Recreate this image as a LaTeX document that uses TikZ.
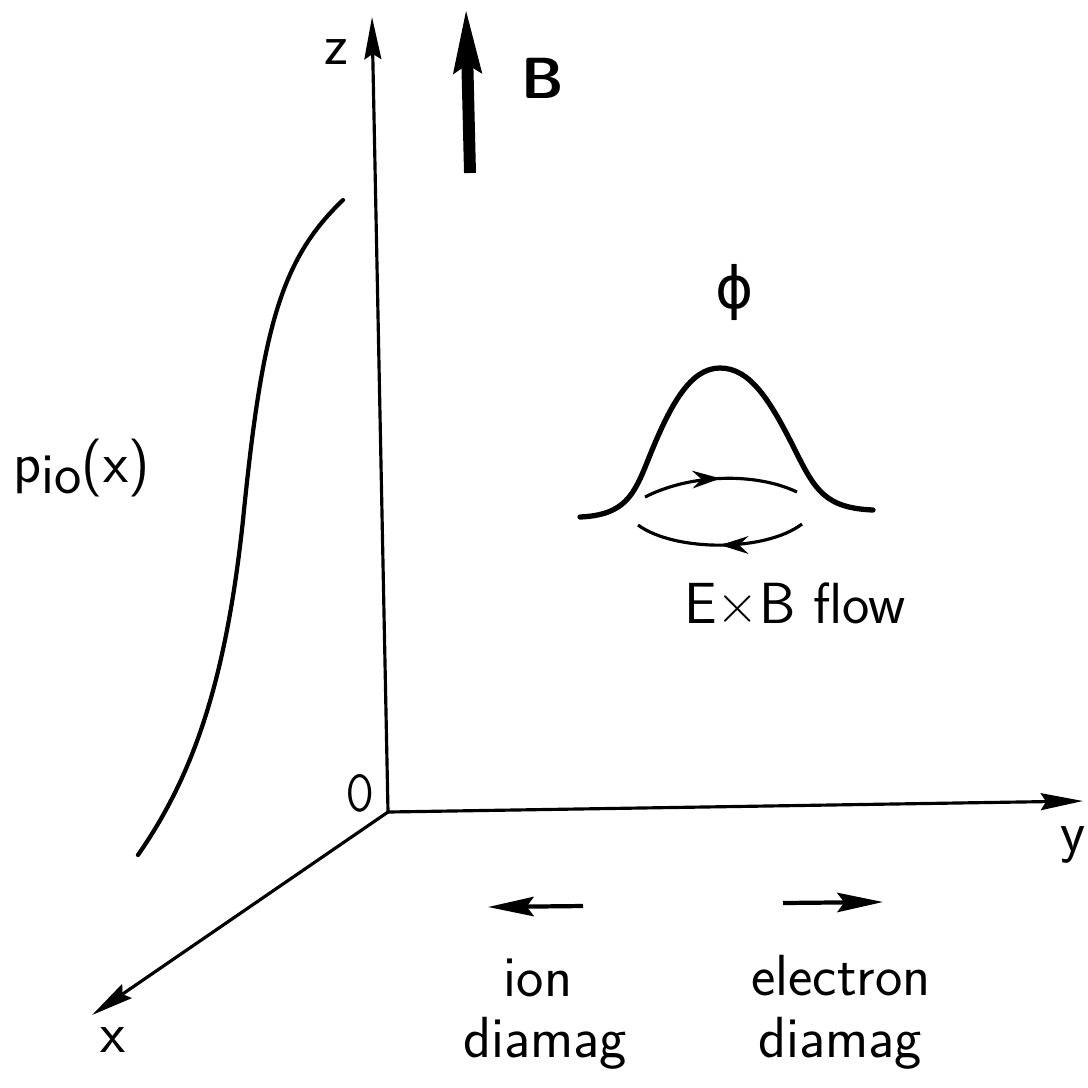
\documentclass[tikz,border=0pt]{standalone}
\usepackage{fontspec}
\usepackage{graphicx}
\newfontfamily\grkfont{DejaVu Sans}
\usetikzlibrary{arrows.meta,positioning,decorations.markings}

\begin{document}
\begin{tikzpicture}[x=0.01cm,y=-0.01cm,>=Stealth,
  axis/.style={line width=0.9pt,-{Stealth[length=12pt,width=4.8pt,inset=1.5pt]}},
  lbl/.style={font=\fontsize{16.5}{20}\selectfont\sffamily\addfontfeatures{LetterSpace=4},inner sep=0pt},
  flow/.style={line width=0.9pt,postaction={decorate},
    decoration={markings,mark=at position 0.5 with {\arrow{Stealth[length=8pt,width=5pt]}}}}]
  \useasboundingbox (0,0) rectangle (1088,1087);

  % axes
  \coordinate (O) at (388,812);
  \coordinate (ztip) at (372,17);
  \coordinate (ytip) at (1083,801);
  \coordinate (xtip) at (92,1015);
  \draw[axis] (O) -- (ztip);
  \draw[axis] (O) -- (ytip);
  \draw[axis] (O) -- (xtip);
  \node[lbl] (zlab) at (336,52) {z};
  \node[lbl] (ylab) at (1073,845) {y};
  \node[lbl] (xlab) at (113,1040) {x};
  \node[lbl] (olab) at (360,793) {\scalebox{0.68}[0.9]{O}};

  % magnetic field
  \coordinate (Btail) at (470,173);
  \coordinate (Btip) at (466,8);
  \draw[line width=3.4pt,-{Stealth[length=18pt,width=7.5pt,inset=2pt]}] (Btail) -- (Btip);
  \node[lbl] (Blab) at (543,78) {\bfseries B};

  % pressure profile
  \draw[line width=1.2pt,line cap=round] (343,200) .. controls (280,260) and (262,330) .. (243,520)
    .. controls (225,690) and (190,780) .. (138,855);
  \node[lbl,anchor=base west] (plab) at (13,482) {p\raisebox{-0.45ex}{io}(x)};

  % potential bump
  \draw[line width=1.5pt,line cap=round] (580,517) .. controls (625,515) and (634,495) .. (648,460)
    .. controls (670,405) and (690,368) .. (720,368)
    .. controls (750,368) and (770,400) .. (795,450)
    .. controls (815,490) and (825,508) .. (873,510);
  \node[lbl] (philab) at (735,292) {\grkfont ϕ};

  % E x B flow
  \coordinate (u1) at (645,497);
  \coordinate (u2) at (797,492);
  \coordinate (d1) at (802,524);
  \coordinate (d2) at (638,525);
  \draw[flow] (u1) .. controls (690,474) and (755,472) .. (u2);
  \draw[flow] (d1) .. controls (765,552) and (675,552) .. (d2);
  \node[lbl,anchor=base] (flowlab) at (795,623) {E×B flow};

  % drift directions
  \coordinate (iontail) at (583,906);
  \coordinate (iontip) at (488,907);
  \coordinate (eltail) at (783,903);
  \coordinate (eltip) at (883,902);
  \draw[line width=1.2pt,-{Stealth[length=13pt,width=5.5pt,inset=2pt]}] (iontail) -- (iontip);
  \draw[line width=1.2pt,-{Stealth[length=13pt,width=5.5pt,inset=2pt]}] (eltail) -- (eltip);
  \node[lbl,anchor=base] (ionlab) at (538,996) {ion};
  \node[lbl,anchor=base] (iondia) at (545,1057) {diamag};
  \node[lbl,anchor=base] (ellab) at (841,995) {electron};
  \node[lbl,anchor=base] (eldia) at (840,1057) {diamag};
\end{tikzpicture}
\end{document}
